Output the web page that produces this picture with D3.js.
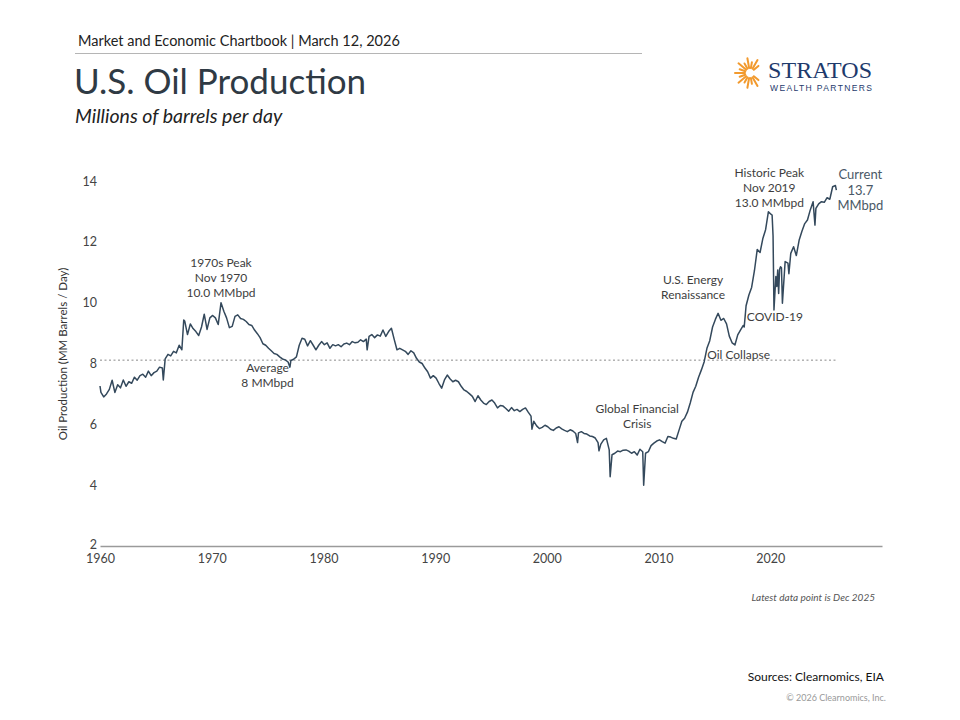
<!DOCTYPE html>
<html lang="en">
<head>
    <meta charset="UTF-8">
    <title>U.S. Oil Production</title>
    <script src="https://d3js.org/d3.v7.min.js"></script>
    <style>
        body { margin: 0; background: #fff; }
        svg text { font-family: Lato, "Open Sans", sans-serif; }
    </style>
</head>
<body>
    <svg width="960" height="720"></svg>

    <script>
        // quarterly readings (Feb, May, Aug, Nov), MM barrels per day
        const years = d3.range(1960, 2026);
        const quarterly = [
            [7.05, 6.90, 7.00, 7.15], [7.45, 7.05, 7.30, 7.20], [7.46, 7.25, 7.40, 7.35], [7.55, 7.45, 7.60, 7.65],
            [7.55, 7.75, 7.60, 7.70], [7.75, 7.88, 7.85, 8.15], [8.30, 8.25, 8.40, 8.35], [8.60, 8.45, 9.40, 8.95],
            [9.30, 9.15, 9.05, 8.92], [9.20, 9.62, 9.12, 9.50], [9.58, 9.50, 9.28, 10.00], [9.72, 9.50, 9.18, 9.22],
            [9.55, 9.60, 9.48, 9.45], [9.38, 9.28, 9.25, 9.10], [8.98, 8.85, 8.65, 8.60], [8.50, 8.42, 8.33, 8.30],
            [8.22, 8.15, 8.12, 8.05], [8.10, 8.14, 8.22, 8.60], [8.83, 8.80, 8.58, 8.75], [8.60, 8.45, 8.60, 8.72],
            [8.62, 8.68, 8.50, 8.62], [8.58, 8.62, 8.55, 8.64], [8.67, 8.62, 8.72, 8.68], [8.70, 8.78, 8.72, 8.80],
            [8.89, 8.95, 8.85, 8.94], [8.90, 9.10, 8.89, 9.05], [9.16, 8.80, 8.45, 8.50], [8.45, 8.40, 8.30, 8.42],
            [8.35, 8.17, 8.05, 8.00], [7.85, 7.73, 7.52, 7.60], [7.52, 7.35, 7.19, 7.46], [7.62, 7.50, 7.40, 7.45],
            [7.40, 7.25, 7.13, 7.08], [7.00, 6.92, 6.75, 6.94], [6.80, 6.70, 6.65, 6.75], [6.80, 6.70, 6.54, 6.62],
            [6.60, 6.52, 6.43, 6.55], [6.45, 6.49, 6.42, 6.49], [6.54, 6.40, 6.27, 6.10], [5.95, 5.86, 5.90, 5.97],
            [5.92, 5.84, 5.80, 5.88], [5.92, 5.85, 5.80, 5.76], [5.82, 5.78, 5.70, 5.72], [5.76, 5.70, 5.68, 5.62],
            [5.60, 5.55, 5.40, 5.35], [5.49, 5.54, 5.16, 5.00], [5.05, 5.12, 5.10, 5.15], [5.16, 5.12, 5.05, 5.10],
            [4.99, 5.18, 5.10, 5.05], [5.10, 5.30, 5.38, 5.45], [5.49, 5.43, 5.38, 5.60], [5.58, 5.54, 5.52, 5.81],
            [6.10, 6.20, 6.40, 6.70], [7.05, 7.25, 7.55, 7.79], [8.06, 8.50, 8.75, 9.20], [9.45, 9.65, 9.42, 9.48],
            [9.30, 8.90, 8.68, 8.61], [8.94, 9.10, 9.25, 9.90], [10.25, 10.50, 11.05, 11.75], [11.65, 12.10, 12.40, 12.99],
            [12.90, 9.76, 10.53, 11.10], [9.98, 11.35, 11.30, 11.62], [11.84, 11.55, 12.05, 12.35], [12.60, 12.72, 13.05, 13.32],
            [13.10, 13.25, 13.32, 13.30], [13.45, 13.40, 13.81, 13.85]
        ];
        // single months that break away from the quarterly readings (storms, shocks, first and last month)
        const events = [
            ["1960-01", 7.26], ["1965-09", 7.46], ["1967-07", 9.43], ["1977-01", 7.88], ["1983-12", 8.45],
            ["1998-09", 5.84], ["2002-10", 5.40], ["2004-09", 5.13], ["2005-09", 4.28], ["2008-09", 4.00],
            ["2017-09", 9.20], ["2020-03", 12.88], ["2020-04", 12.20], ["2020-07", 10.86], ["2020-09", 11.07],
            ["2020-10", 10.30], ["2020-12", 11.18], ["2021-01", 11.15], ["2021-09", 10.95], ["2024-01", 12.55],
            ["2025-12", 13.70]
        ];
        const average = 8.11;
        const yTicks = [2, 4, 6, 8, 10, 12, 14];
        const xTicks = [1960, 1970, 1980, 1990, 2000, 2010, 2020];

        const annotations = [
            {date: "1970-11", value: 11.17, lines: ["1970s Peak", "Nov 1970", "10.0 MMbpd"]},
            {date: "1975-01", value: 7.72, lines: ["Average", "8 MMbpd"]},
            {date: "2008-02", value: 6.38, lines: ["Global Financial", "Crisis"]},
            {date: "2013-02", value: 10.61, lines: ["U.S. Energy", "Renaissance"]},
            {date: "2017-03", value: 8.15, lines: ["Oil Collapse"]},
            {date: "2020-06", value: 9.41, lines: ["COVID-19"]},
            {date: "2019-12", value: 14.13, lines: ["Historic Peak", "Nov 2019", "13.0 MMbpd"]}
        ];
        const current = {date: "2025-12", lines: ["Current", "13.7", "MMbpd"]};

        const parse = d3.timeParse("%Y-%m");
        const data = [];
        years.forEach((yr, i) => {
            quarterly[i].forEach((v, q) => data.push({date: new Date(yr, q * 3 + 1, 1), value: v}));
        });
        events.forEach(e => data.push({date: parse(e[0]), value: e[1]}));
        data.sort((a, b) => a.date - b.date);
        const series = data.filter(d => d.date <= parse("2025-12"));

        const svg = d3.select("svg");

        const x = d3.scaleTime()
            .domain([new Date(1960, 0, 1), new Date(2030, 0, 1)])
            .range([100, 882]);
        const y = d3.scaleLinear()
            .domain([2, 14])
            .range([546, 181]);

        // header
        svg.append("text").attr("x", 78).attr("y", 46)
            .attr("font-size", 14.5).attr("fill", "#222")
            .text("Market and Economic Chartbook | March 12, 2026");
        svg.append("line").attr("x1", 75).attr("x2", 642).attr("y1", 53.5).attr("y2", 53.5)
            .attr("stroke", "#b5b5b5").attr("stroke-width", 1);
        svg.append("text").attr("x", 74).attr("y", 94)
            .attr("font-size", 35).attr("fill", "#2f3a44")
            .text("U.S. Oil Production");
        svg.append("text").attr("x", 75).attr("y", 123)
            .attr("font-size", 19.5).attr("font-style", "italic").attr("fill", "#222")
            .text("Millions of barrels per day");

        // logo
        const logo = svg.append("g").attr("transform", "translate(750,73)");
        d3.range(-7, 8).forEach(i => {
            const a = Math.PI + i * Math.PI / 9;
            const r0 = 5, r1 = (i % 2 === 0) ? 15 : 11;
            logo.append("line")
                .attr("x1", Math.cos(a) * r0).attr("y1", Math.sin(a) * r0)
                .attr("x2", Math.cos(a) * r1).attr("y2", Math.sin(a) * r1)
                .attr("stroke", "#f29a2e").attr("stroke-width", 2).attr("stroke-linecap", "round");
        });
        svg.append("text").attr("x", 768).attr("y", 78)
            .attr("font-size", 24).attr("fill", "#1e3a6c").attr("textLength", 104)
            .style("font-family", "'Liberation Serif', serif")
            .text("STRATOS");
        svg.append("text").attr("x", 770).attr("y", 91)
            .attr("font-size", 8.5).attr("fill", "#1e3a6c").attr("textLength", 102)
            .style("font-family", "'Liberation Sans', sans-serif")
            .text("WEALTH PARTNERS");

        // axes
        const xAxis = svg.append("g")
            .attr("transform", "translate(0,546)")
            .call(d3.axisBottom(x)
                .tickValues(xTicks.map(t => new Date(t, 0, 1)))
                .tickSize(0).tickPadding(8)
                .tickFormat(d3.timeFormat("%Y")));
        xAxis.select(".domain").attr("stroke", "#9a9a9a").attr("stroke-width", 1.5);
        xAxis.selectAll("text").attr("font-size", 12.5).attr("fill", "#444");

        const yAxis = svg.append("g")
            .attr("transform", "translate(99,0)")
            .call(d3.axisLeft(y).tickValues(yTicks).tickSize(0).tickPadding(2));
        yAxis.select(".domain").remove();
        yAxis.selectAll("text").attr("font-size", 12.5).attr("fill", "#444");
        yAxis.selectAll(".tick").filter(d => d === 2).select("text").attr("dy", "0.2em");

        svg.append("text")
            .attr("transform", "translate(67,354) rotate(-90)")
            .attr("text-anchor", "middle").attr("font-size", 11.5).attr("fill", "#333")
            .text("Oil Production (MM Barrels / Day)");

        // average line
        svg.append("line")
            .attr("x1", x(new Date(1960, 0, 1))).attr("x2", x(parse("2025-12")))
            .attr("y1", y(average)).attr("y2", y(average))
            .attr("stroke", "#8a8a8a").attr("stroke-width", 1).attr("stroke-dasharray", "2,2.5");

        // production line
        svg.append("path")
            .datum(series)
            .attr("fill", "none")
            .attr("stroke", "#34495c")
            .attr("stroke-width", 1.5)
            .attr("stroke-linejoin", "round")
            .attr("d", d3.line().x(d => x(d.date)).y(d => y(d.value)));

        // annotations
        annotations.forEach(a => {
            const t = svg.append("text")
                .attr("text-anchor", "middle").attr("font-size", 12).attr("fill", "#3d3d3d");
            a.lines.forEach((l, i) => {
                t.append("tspan")
                    .attr("x", x(parse(a.date)))
                    .attr("y", y(a.value) + i * 15)
                    .text(l);
            });
        });

        const cur = svg.append("text")
            .attr("text-anchor", "middle").attr("font-size", 13).attr("fill", "#4a5866");
        current.lines.forEach((l, i) => {
            cur.append("tspan")
                .attr("x", x(parse(current.date)) + 24)
                .attr("y", 179 + i * 15.5)
                .text(l);
        });

        // footer
        svg.append("text").attr("x", 875).attr("y", 600.5)
            .attr("text-anchor", "end").attr("font-size", 10).attr("font-style", "italic").attr("fill", "#555")
            .text("Latest data point is Dec 2025");
        svg.append("text").attr("x", 884).attr("y", 681)
            .attr("text-anchor", "end").attr("font-size", 12).attr("fill", "#111")
            .text("Sources: Clearnomics, EIA");
        svg.append("text").attr("x", 886).attr("y", 701)
            .attr("text-anchor", "end").attr("font-size", 9).attr("fill", "#999")
            .text("© 2026 Clearnomics, Inc.");
    </script>
</body>
</html>
